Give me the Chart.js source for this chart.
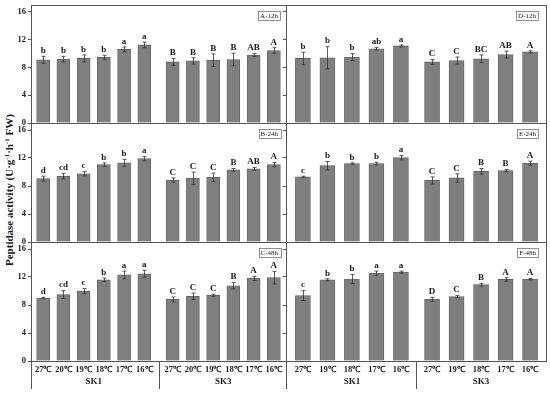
<!DOCTYPE html>
<html><head><meta charset="utf-8">
<script src="https://cdn.jsdelivr.net/npm/chart.js@4/dist/chart.umd.min.js"></script>
<style>
html,body{margin:0;padding:0;background:#fff;}
body{width:550px;height:393px;position:relative;overflow:hidden;}
canvas{position:absolute;}
#ytitle{position:absolute;left:9px;top:190px;transform:translate(-50%,-50%) rotate(-90deg);white-space:nowrap;font-weight:bold;font-size:11px;font-family:"Liberation Serif",serif;color:#1a1a1a;}
#ytitle sup{font-size:7px;vertical-align:4px;line-height:0;}
</style></head><body>
<div id="ytitle">Peptidase activity (U·g<sup>-1</sup>·h<sup>-1</sup> FW)</div>
<canvas id="cA"></canvas><canvas id="cB"></canvas><canvas id="cC"></canvas>
<canvas id="cD"></canvas><canvas id="cE"></canvas><canvas id="cF"></canvas>
<script>
// ---------- data ----------
const tempsLeft = ['27℃','20℃','19℃','18℃','17℃','16℃'];
const tempsRight = ['27℃','19℃','18℃','17℃','16℃'];
const groups = ['SK1','SK3'];
const yTicks = [0,4,8,12,16];

// A-12h
const A_SK1 = [9.1, 9.2, 9.3, 9.45, 10.6, 11.25];
const A_SK1_err = [0.5, 0.4, 0.5, 0.3, 0.35, 0.4];
const A_SK1_sig = ['b','b','b','b','a','a'];
const A_SK3 = [8.8, 8.95, 9.05, 9.15, 9.8, 10.45];
const A_SK3_err = [0.5, 0.45, 0.9, 0.9, 0.2, 0.4];
const A_SK3_sig = ['B','B','B','B','AB','A'];
// B-24h
const B_SK1 = [9.05, 9.4, 9.75, 11.05, 11.3, 11.9];
const B_SK1_err = [0.35, 0.4, 0.3, 0.25, 0.5, 0.3];
const B_SK1_sig = ['d','cd','c','b','b','a'];
const B_SK3 = [8.85, 9.1, 9.25, 10.3, 10.45, 11.05];
const B_SK3_err = [0.3, 0.9, 0.6, 0.2, 0.2, 0.3];
const B_SK3_sig = ['C','C','C','B','AB','A'];
// C-48h
const C_SK1 = [9.0, 9.5, 10.0, 11.6, 12.3, 12.45];
const C_SK1_err = [0.1, 0.55, 0.35, 0.25, 0.55, 0.5];
const C_SK1_sig = ['d','cd','c','b','a','a'];
const C_SK3 = [8.8, 9.25, 9.4, 10.75, 11.8, 11.9];
const C_SK3_err = [0.35, 0.45, 0.15, 0.45, 0.3, 0.9];
const C_SK3_sig = ['C','C','C','B','A','A'];
// D-12h
const D_SK1 = [9.3, 9.4, 9.5, 10.7, 11.1];
const D_SK1_err = [0.9, 1.6, 0.5, 0.2, 0.15];
const D_SK1_sig = ['b','b','b','ab','a'];
const D_SK3 = [8.8, 9.0, 9.25, 9.85, 10.25];
const D_SK3_err = [0.35, 0.5, 0.55, 0.5, 0.15];
const D_SK3_sig = ['C','C','BC','AB','A'];
// E-24h
const E_SK1 = [9.3, 10.9, 11.2, 11.2, 12.05];
const E_SK1_err = [0.1, 0.6, 0.1, 0.2, 0.3];
const E_SK1_sig = ['c','b','b','b','a'];
const E_SK3 = [8.8, 9.15, 10.1, 10.2, 11.25];
const E_SK3_err = [0.5, 0.6, 0.4, 0.15, 0.3];
const E_SK3_sig = ['C','C','B','B','A'];
// F-48h
const F_SK1 = [9.35, 11.6, 11.7, 12.55, 12.7];
const F_SK1_err = [0.7, 0.15, 0.65, 0.3, 0.15];
const F_SK1_sig = ['c','b','b','a','a'];
const F_SK3 = [8.8, 9.2, 10.9, 11.65, 11.7];
const F_SK3_err = [0.3, 0.15, 0.2, 0.25, 0.1];
const F_SK3_sig = ['D','C','B','A','A'];

// ---------- drawing ----------
const SERIF = '"Liberation Serif", "Times New Roman", serif';
const INK = '#1a1a1a';
const FRAME = '#555555';

const frameAndMarks = {
  id: 'frameAndMarks',
  afterDatasetsDraw(chart) {
    const ctx = chart.ctx, a = chart.chartArea, o = chart.options.plugins.frameAndMarks;
    const ys = chart.scales.y;
    ctx.save();
    chart.data.datasets.forEach((ds, di) => {
      const meta = chart.getDatasetMeta(di);
      meta.data.forEach((el, i) => {
        const v = ds.data[i].y, e = ds.err[i];
        const yt = ys.getPixelForValue(v + e), yb = ys.getPixelForValue(v - e);
        const x = Math.round(el.x) + 0.5;
        ctx.strokeStyle = '#333'; ctx.lineWidth = 0.8;
        ctx.beginPath();
        ctx.moveTo(x, yt); ctx.lineTo(x, yb);
        ctx.moveTo(x - 2, yt); ctx.lineTo(x + 2, yt);
        ctx.moveTo(x - 2, yb); ctx.lineTo(x + 2, yb);
        ctx.stroke();
        ctx.fillStyle = INK;
        ctx.font = 'bold 9px ' + SERIF;
        ctx.textAlign = 'center'; ctx.textBaseline = 'bottom';
        ctx.fillText(ds.sig[i], el.x, yt - 1);
      });
    });
    ctx.strokeStyle = FRAME; ctx.lineWidth = 1;
    ctx.strokeRect(Math.round(a.left) + 0.5, Math.round(a.top) + 0.5, Math.round(a.right - a.left), Math.round(a.bottom - a.top));
    ctx.font = '7px ' + SERIF;
    const w = ctx.measureText(o.tag).width + 4, h = 9;
    const bx = a.right - o.tagRight - w, by = a.top + 6;
    ctx.fillStyle = '#fff'; ctx.fillRect(bx, by, w, h);
    ctx.strokeStyle = '#777'; ctx.lineWidth = 0.8;
    ctx.strokeRect(Math.round(bx) + 0.5, Math.round(by) + 0.5, Math.round(w), h);
    ctx.fillStyle = INK; ctx.textAlign = 'center'; ctx.textBaseline = 'middle';
    ctx.fillText(o.tag, bx + w / 2, by + h / 2 + 0.5);
    if (o.bottom) {
      const xs = chart.scales.x;
      const n = o.n;
      const lastA = xs.getPixelForValue(n - 1), firstB = xs.getPixelForValue(o.gap);
      const mid = Math.round((lastA + firstB) / 2) + 0.5;
      ctx.strokeStyle = FRAME; ctx.lineWidth = 1;
      ctx.beginPath();
      ctx.moveTo(Math.round(a.left) + 0.5, a.bottom); ctx.lineTo(Math.round(a.left) + 0.5, a.bottom + 28);
      ctx.moveTo(mid, a.bottom); ctx.lineTo(mid, a.bottom + 28);
      ctx.stroke();
      ctx.fillStyle = INK; ctx.font = 'bold 9px ' + SERIF;
      ctx.textAlign = 'center'; ctx.textBaseline = 'middle';
      const c1 = (xs.getPixelForValue(0) + lastA) / 2;
      const c2 = (firstB + xs.getPixelForValue(o.gap + n - 1)) / 2;
      ctx.fillText(groups[0], c1, a.bottom + 21);
      ctx.fillText(groups[1], c2, a.bottom + 21);
    }
    ctx.restore();
  }
};

function makePanel(id, cfg) {
  const cv = document.getElementById(id);
  const rowTop = cfg.top, rowH = cfg.h;
  const left = cfg.leftCol;
  const yW = left ? 31 : 4;
  const canvasLeft = cfg.x0 - yW;
  const padR = 4;
  const width = (cfg.x1 - canvasLeft) + padR;
  const xH = 32;
  const height = 10 + rowH + (cfg.bottom ? xH : 10);
  cv.width = width; cv.height = height;
  cv.style.left = canvasLeft + 'px'; cv.style.top = (rowTop - 10) + 'px';
  cv.style.width = width + 'px'; cv.style.height = height + 'px';

  const labels = cfg.temps;
  const n = labels.length;
  const pos = [];
  for (let i = 0; i < n; i++) pos.push(i);
  for (let i = 0; i < n; i++) pos.push(cfg.gap + i);
  const allLabels = labels.concat(labels);

  const d1 = cfg.s1.map((v, i) => ({ x: i, y: v }));
  const d2 = cfg.s3.map((v, i) => ({ x: cfg.gap + i, y: v }));

  const barStyle = { backgroundColor: '#7f7f7f', borderColor: '#5e5e5e', borderWidth: 0.8, barThickness: cfg.bw, grouped: false };

  new Chart(cv, {
    type: 'bar',
    data: {
      datasets: [
        Object.assign({ label: groups[0], data: d1, err: cfg.e1, sig: cfg.g1 }, barStyle),
        Object.assign({ label: groups[1], data: d2, err: cfg.e3, sig: cfg.g3 }, barStyle)
      ]
    },
    options: {
      responsive: false, animation: false, devicePixelRatio: 1,
      layout: { padding: { left: 0, right: padR, top: 10, bottom: cfg.bottom ? 0 : 10 } },
      plugins: {
        legend: { display: false }, tooltip: { enabled: false },
        frameAndMarks: { tag: cfg.tag, tagRight: left ? 6 : 8, bottom: cfg.bottom, n: n, gap: cfg.gap }
      },
      scales: {
        x: {
          type: 'linear', min: cfg.xmin, max: cfg.xmax, offset: false,
          display: cfg.bottom,
          afterBuildTicks: (s) => { s.ticks = pos.map(v => ({ value: v })); },
          afterFit: (s) => { s.height = cfg.bottom ? xH : 0; },
          grid: { drawOnChartArea: false, drawTicks: false },
          border: { display: true, color: FRAME, width: 1 },
          ticks: {
            autoSkip: false, maxRotation: 0, padding: 4, color: INK,
            font: { family: SERIF, size: 8.5, weight: 'bold' },
            callback: (v, i) => allLabels[i]
          }
        },
        y: {
          min: 0, max: 17,
          afterBuildTicks: (s) => { s.ticks = yTicks.map(v => ({ value: v })); },
          afterFit: (s) => { s.width = yW; },
          grid: { drawOnChartArea: false, drawTicks: true, tickLength: 3, color: FRAME },
          border: { display: true, color: FRAME, width: 1 },
          ticks: {
            display: left, padding: 2, color: INK,
            font: { family: SERIF, size: 8.5, weight: 'bold' }
          }
        }
      }
    },
    plugins: [frameAndMarks]
  });
}

const rows = [{ top: 5, h: 118 }, { top: 123, h: 119 }, { top: 242, h: 119 }];
const L = { leftCol: true, x0: 31, x1: 286, xmin: -0.6, xmax: 12.0, gap: 6.4, bw: 13, temps: tempsLeft };
const R = { leftCol: false, x0: 286, x1: 546, xmin: -0.69, xmax: 9.92, gap: 5.27, bw: 15, temps: tempsRight };

makePanel('cA', Object.assign({}, L, rows[0], { bottom: false, tag: 'A-12h', s1: A_SK1, e1: A_SK1_err, g1: A_SK1_sig, s3: A_SK3, e3: A_SK3_err, g3: A_SK3_sig }));
makePanel('cB', Object.assign({}, L, rows[1], { bottom: false, tag: 'B-24h', s1: B_SK1, e1: B_SK1_err, g1: B_SK1_sig, s3: B_SK3, e3: B_SK3_err, g3: B_SK3_sig }));
makePanel('cC', Object.assign({}, L, rows[2], { bottom: true, tag: 'C-48h', s1: C_SK1, e1: C_SK1_err, g1: C_SK1_sig, s3: C_SK3, e3: C_SK3_err, g3: C_SK3_sig }));
makePanel('cD', Object.assign({}, R, rows[0], { bottom: false, tag: 'D-12h', s1: D_SK1, e1: D_SK1_err, g1: D_SK1_sig, s3: D_SK3, e3: D_SK3_err, g3: D_SK3_sig }));
makePanel('cE', Object.assign({}, R, rows[1], { bottom: false, tag: 'E-24h', s1: E_SK1, e1: E_SK1_err, g1: E_SK1_sig, s3: E_SK3, e3: E_SK3_err, g3: E_SK3_sig }));
makePanel('cF', Object.assign({}, R, rows[2], { bottom: true, tag: 'F-48h', s1: F_SK1, e1: F_SK1_err, g1: F_SK1_sig, s3: F_SK3, e3: F_SK3_err, g3: F_SK3_sig }));
</script>
</body></html>
